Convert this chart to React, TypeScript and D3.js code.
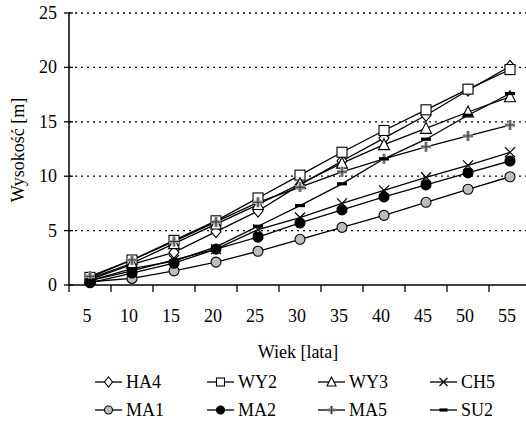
import React from "react";
import * as d3 from "d3";

const ages = [5, 10, 15, 20, 25, 30, 35, 40, 45, 50, 55];
const yTicks = [0, 5, 10, 15, 20, 25];

const HA4 = [0.5, 1.9, 3.0, 4.9, 6.8, 9.2, 11.4, 13.5, 15.6, 17.9, 20.1];
const WY2 = [0.7, 2.3, 4.1, 5.9, 8.0, 10.1, 12.2, 14.2, 16.1, 18.0, 19.8];
const WY3 = [0.6, 2.0, 3.8, 5.6, 7.4, 9.3, 11.2, 12.9, 14.4, 15.9, 17.3];
const CH5 = [0.4, 1.3, 2.3, 3.3, 5.1, 6.2, 7.5, 8.7, 9.9, 11.0, 12.2];
const MA1 = [0.3, 0.6, 1.3, 2.1, 3.1, 4.2, 5.3, 6.4, 7.6, 8.8, 9.95];
const MA2 = [0.2, 1.1, 2.0, 3.3, 4.4, 5.7, 6.9, 8.1, 9.2, 10.3, 11.4];
const MA5 = [0.8, 2.3, 4.0, 5.8, 7.6, 9.0, 10.4, 11.6, 12.7, 13.7, 14.7];
const SU2 = [0.4, 1.5, 2.2, 3.5, 5.4, 7.3, 9.3, 11.6, 13.4, 15.6, 17.6];

const seriesNames = ["HA4", "WY2", "WY3", "CH5", "MA1", "MA2", "MA5", "SU2"];
const seriesValues = [HA4, WY2, WY3, CH5, MA1, MA2, MA5, SU2];
const markerTypes = ["diamond", "square", "triangle", "cross", "circleGrey", "circleBlack", "plus", "dash"];

const TS = { fontFamily: "'Liberation Serif'" };

function Marker(props) {
  const { type, x, y, s } = props;
  const h = s / 2;
  if (type === "diamond")
    return <path d={`M${x},${y - h - 1}L${x + h},${y}L${x},${y + h + 1}L${x - h},${y}Z`} fill="white" stroke="black" strokeWidth={1.1} />;
  if (type === "square")
    return <rect x={x - h} y={y - h} width={s} height={s} fill="white" stroke="black" strokeWidth={1.1} />;
  if (type === "triangle")
    return <path d={`M${x},${y - h - 1}L${x + h + 0.5},${y + h}L${x - h - 0.5},${y + h}Z`} fill="white" stroke="black" strokeWidth={1.1} />;
  if (type === "cross")
    return <path d={`M${x - h},${y - h}L${x + h},${y + h}M${x - h},${y + h}L${x + h},${y - h}`} stroke="black" strokeWidth={1.2} fill="none" />;
  if (type === "circleGrey")
    return <circle cx={x} cy={y} r={h} fill="#bdbdbd" stroke="black" strokeWidth={1.1} />;
  if (type === "circleBlack")
    return <circle cx={x} cy={y} r={h} fill="black" stroke="black" strokeWidth={1.1} />;
  if (type === "plus")
    return (
      <g>
        <path d={`M${x - h},${y}L${x + h},${y}M${x},${y - h}L${x},${y + h}`} stroke="#aaaaaa" strokeWidth={3.5} fill="none" />
        <path d={`M${x - h},${y}L${x + h},${y}M${x},${y - h}L${x},${y + h}`} stroke="#333" strokeWidth={1.1} fill="none" />
      </g>
    );
  if (type === "dash")
    return <rect x={x - h} y={y - 1.6} width={s} height={3.2} fill="black" />;
  return null;
}

export default function App() {
  const W = 526, H = 428;
  const left = 69, top = 13, bottom = 285;
  const band = 42;
  const x = d3.scaleBand().domain(ages).range([left, left + band * ages.length]).padding(0);
  const cx = (a) => x(a) + x.bandwidth() / 2;
  const y = d3.scaleLinear().domain([0, 25]).range([bottom, top]);
  const line = d3.line().x((_, i) => cx(ages[i])).y((v) => y(v));

  const legendCols = [95, 207, 318, 430];
  const legendRows = [382, 410];
  const fs = 18;

  return (
    <div style={{ position: "absolute", left: 0, top: 0, width: W, height: H, fontFamily: "'Liberation Serif'" }}>
      <svg width={W} height={H} style={{ display: "block" }}>
        <style>{`text { font-family: 'Liberation Serif'; }`}</style>
        <rect width={W} height={H} fill="white" />
        {yTicks.filter((t) => t > 0).map((t) => (
          <line key={"g" + t} x1={left} x2={W} y1={y(t)} y2={y(t)} stroke="black" strokeWidth={1.3} strokeDasharray="2,4" />
        ))}
        <line x1={left} x2={left} y1={top} y2={bottom} stroke="black" strokeWidth={1.5} />
        {yTicks.map((t) => (
          <g key={"yt" + t}>
            <line x1={left - 5} x2={left + 4} y1={y(t)} y2={y(t)} stroke="black" strokeWidth={1.3} />
            <text x={57} y={y(t)} dy="0.33em" textAnchor="end" fontSize={fs} style={TS}>{t}</text>
          </g>
        ))}
        <line x1={left} x2={W} y1={bottom} y2={bottom} stroke="black" strokeWidth={1.5} />
        {d3.range(ages.length + 1).map((k) => (
          <line key={"xt" + k} x1={left + band * k} x2={left + band * k} y1={bottom} y2={bottom + 7} stroke="black" strokeWidth={1.3} />
        ))}
        {ages.map((a) => (
          <text key={"xl" + a} x={cx(a) - 3} y={316} dy="0.33em" textAnchor="middle" fontSize={fs} style={TS}>{a}</text>
        ))}
        <text x={298} y={352} dy="0.33em" textAnchor="middle" fontSize={fs} style={TS}>Wiek [lata]</text>
        <text transform="translate(18,150) rotate(-90)" dy="0.33em" textAnchor="middle" fontSize={fs} style={TS}>Wysokość [m]</text>
        {seriesValues.map((vals, si) => (
          <path key={"l" + si} d={line(vals)} fill="none" stroke="black" strokeWidth={1.3} />
        ))}
        {seriesValues.map((vals, si) => (
          <g key={"m" + si}>
            {vals.map((v, i) => (
              <Marker key={i} type={markerTypes[si]} x={cx(ages[i])} y={y(v)} s={10} />
            ))}
          </g>
        ))}
        {seriesNames.map((name, i) => {
          const lx = legendCols[i % 4];
          const ly = legendRows[Math.floor(i / 4)];
          return (
            <g key={"lg" + name}>
              <line x1={lx} x2={lx + 27} y1={ly} y2={ly} stroke="black" strokeWidth={1.3} />
              <Marker type={markerTypes[i]} x={lx + 13.5} y={ly} s={8} />
              <text x={lx + 31} y={ly} dy="0.33em" fontSize={fs} style={TS}>{name}</text>
            </g>
          );
        })}
      </svg>
    </div>
  );
}
